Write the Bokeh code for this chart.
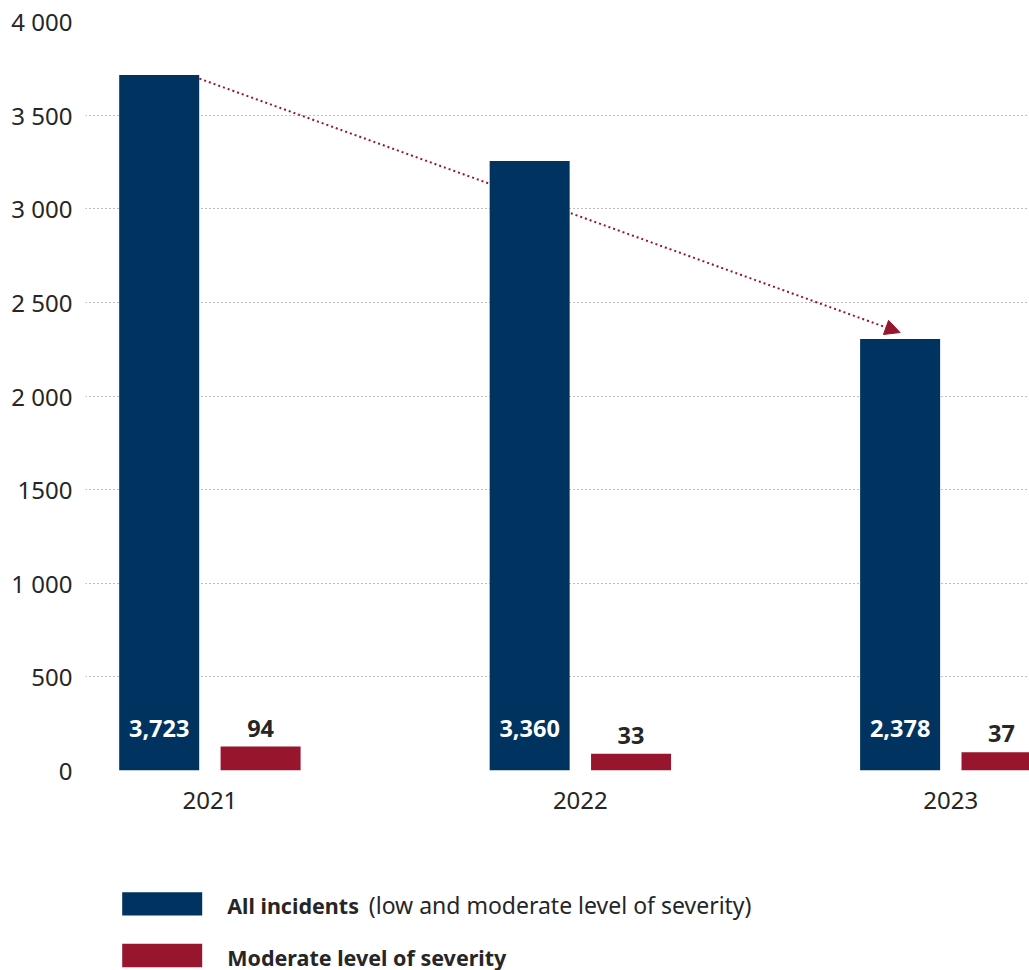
from bokeh.plotting import figure
from bokeh.models import Range1d, FixedTicker, ColumnDataSource, LabelSet, Arrow, NormalHead
from bokeh.layouts import column
from bokeh.embed import file_html
from bokeh.resources import INLINE
from bokeh.core.properties import value

# ---- data ----
years = ["2021", "2022", "2023"]
all_incidents = [3714, 3255, 2304]      # bar heights as drawn
moderate = [128, 89, 98]                # bar heights as drawn
all_labels = ["3,723", "3,360", "2,378"]
moderate_labels = ["94", "33", "37"]
y_ticks = [0, 500, 1000, 1500, 2000, 2500, 3000, 3500, 4000]
y_tick_labels = ["0", "500", "1 000", "1500", "2 000", "2 500", "3 000", "3 500", "4 000"]
legend_bold = ["All incidents", "Moderate level of severity"]
legend_rest = ["(low and moderate level of severity)", ""]

# ---- style ----
BLUE = "#00335f"
RED = "#97152d"
TEXT = "#262626"
GRID = "#7a7a7a"
FONT = "Noto Sans"

W = 1029
LEFT = 85
MAIN_H = 848
LEG_H = 122
GROUP_PX = 370.45
BAR_PX = 80
OFF_PX = 50.7

x_idx = list(range(len(years)))
bw = BAR_PX / GROUP_PX
off = OFF_PX / GROUP_PX

p = figure(width=W, height=MAIN_H,
           x_range=Range1d(-0.3358, 2.2124), y_range=Range1d(0, 4000),
           output_backend="svg", toolbar_location=None,
           min_border_left=LEFT, min_border_right=0, min_border_top=21, min_border_bottom=78)
p.outline_line_color = None
p.background_fill_color = "white"
p.border_fill_color = "white"
p.xgrid.visible = False
p.ygrid.ticker = FixedTicker(ticks=y_ticks)
p.ygrid.grid_line_color = GRID
p.ygrid.grid_line_dash = "1 3"
p.ygrid.grid_line_width = 1

p.yaxis.ticker = FixedTicker(ticks=y_ticks)
p.yaxis.major_label_overrides = {t: l for t, l in zip(y_ticks, y_tick_labels)}
p.xaxis.ticker = FixedTicker(ticks=x_idx)
p.xaxis.major_label_overrides = {i: y for i, y in zip(x_idx, years)}
for ax in (p.xaxis, p.yaxis):
    ax.axis_line_color = None
    ax.major_tick_line_color = None
    ax.minor_tick_line_color = None
    ax.major_label_text_font = FONT
    ax.major_label_text_font_size = "24px"
    ax.major_label_text_color = TEXT
p.yaxis.major_label_standoff = 7
p.xaxis.major_label_standoff = 15

# dotted trend arrow (behind the bars)
arrow = Arrow(x_start=x_idx[0] - off + bw / 2 - 0.012, y_start=all_incidents[0] - 10,
              x_end=x_idx[2] - off, y_end=all_incidents[2] + 35,
              line_color=RED, line_width=2, line_dash="2 3",
              end=NormalHead(size=15, fill_color=RED, line_color=RED, line_width=1),
              level="underlay")
p.add_layout(arrow)

src = ColumnDataSource(data=dict(
    xb=[i - off for i in x_idx], xr=[i + off for i in x_idx],
    all=all_incidents, mod=moderate, zero=[0] * len(x_idx),
    all_lab=all_labels, mod_lab=moderate_labels))

p.vbar(x="xb", top="all", width=bw, source=src, fill_color=BLUE, line_color=None)
p.vbar(x="xr", top="mod", width=bw, source=src, fill_color=RED, line_color=None)

p.add_layout(LabelSet(x="xb", y="zero", text="all_lab", source=src, y_offset=34,
                      text_align="center", text_baseline="alphabetic",
                      text_font=value(FONT), text_font_style="bold",
                      text_font_size="23.5px", text_color="white"))
p.add_layout(LabelSet(x="xr", y="mod", text="mod_lab", source=src, y_offset=10,
                      text_align="center", text_baseline="alphabetic",
                      text_font=value(FONT), text_font_style="bold",
                      text_font_size="23.5px", text_color=TEXT))

# ---- legend (data units = page pixels) ----
leg = figure(width=W, height=LEG_H, x_range=Range1d(LEFT, W), y_range=Range1d(LEG_H, 0),
             output_backend="svg", toolbar_location=None,
             min_border_left=LEFT, min_border_right=0, min_border_top=0, min_border_bottom=0)
leg.outline_line_color = None
leg.axis.visible = False
leg.grid.visible = False
leg_y = [55.3, 107.0]
lsrc = ColumnDataSource(data=dict(
    x=[161.7, 161.7], y=leg_y, ty=[v + 10 for v in leg_y],
    tx=[226.7, 226.7], tx2=[368.3, 368.3],
    bold=legend_bold, rest=legend_rest, color=[BLUE, RED]))
leg.rect(x="x", y="y", width=80, height=23.3, source=lsrc, fill_color="color", line_color=None)
leg.add_layout(LabelSet(x="tx", y="ty", text="bold", source=lsrc, text_font=value(FONT),
                        text_font_style="bold", text_font_size="21.5px", text_color=TEXT,
                        text_baseline="alphabetic", text_align="left"))
leg.add_layout(LabelSet(x="tx2", y="ty", text="rest", source=lsrc, text_font=value(FONT),
                        text_font_size="23px", text_color=TEXT,
                        text_baseline="alphabetic", text_align="left"))

layout = column(p, leg, spacing=0)
open("out.html", "w").write(file_html(layout, INLINE))
